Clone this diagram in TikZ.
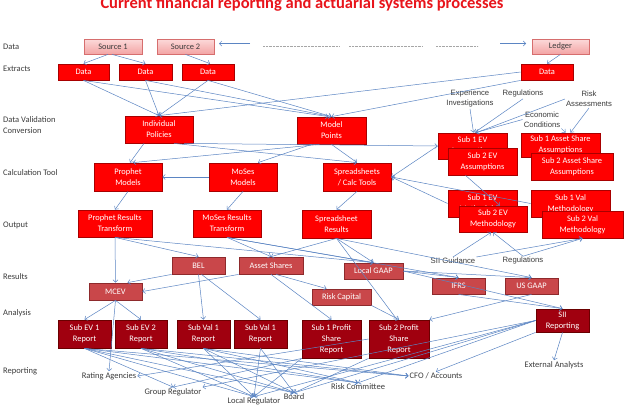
\documentclass[tikz,border=0pt]{standalone}
\usepackage{fontspec}
\setmainfont{Carlito}
\newfontfamily\arialf{Liberation Sans}
\usetikzlibrary{arrows.meta}
\pgfdeclarelayer{background}
\pgfsetlayers{background,main}
\definecolor{linec}{HTML}{5B85C3}
\definecolor{bred}{HTML}{FF0000}
\definecolor{bredb}{HTML}{A80000}
\definecolor{mred}{HTML}{C9474A}
\definecolor{mredb}{HTML}{8E2A2C}
\definecolor{dred}{HTML}{A0000F}
\definecolor{dredb}{HTML}{6A0000}
\definecolor{pinkt}{HTML}{FCDADA}
\definecolor{pinkbt}{HTML}{F3A4A4}
\definecolor{pinkb}{HTML}{D66E6E}
\definecolor{txtg}{HTML}{3C3C3C}
\definecolor{titlec}{HTML}{E8141B}
\tikzset{
  wh/.style 2 args={minimum width=#1pt, minimum height=#2pt},
  box/.style={draw, line width=0.8pt, inner sep=0pt, align=center, text=white,
              font=\fontsize{8.4}{11}\selectfont},
  brbox/.style={box, fill=bred, draw=bredb},
  mrbox/.style={box, fill=mred, draw=mredb},
  drbox/.style={box, fill=dred, draw=dredb},
  srcbox/.style={box, top color=pinkt, bottom color=pinkbt, draw=pinkb, text=txtg},
  lbl/.style={anchor=west, inner sep=0pt, text=txtg, align=left, font=\fontsize{8.5}{11}\selectfont},
  albl/.style={text=txtg, align=center, inner sep=1pt, font=\arialf\fontsize{7.7}{10}\selectfont},
  clbl/.style={text=txtg, inner sep=1pt, font=\fontsize{8.5}{9}\selectfont},
  arr/.style={draw=linec, line width=0.5pt, -{Straight Barb[length=2.5pt,width=5pt]}},
  dotl/.style={draw=gray!70, line width=0.4pt, densely dotted},
}
\begin{document}
\begin{tikzpicture}[x=1pt,y=-1pt]
\fill[white] (0,0) rectangle (627,405);
\useasboundingbox (0,0) rectangle (627,405);

% title
\node[anchor=base, text=titlec, inner sep=0pt, font=\bfseries\fontsize{16.5}{18}\selectfont] (title) at (302,8) {Current financial reporting and actuarial systems processes};

% row labels
\node[lbl] (lData) at (3,47) {Data};
\node[lbl] (lExt) at (3,69) {Extracts};
\node[lbl] (lDV) at (3,125.5) {Data Validation\\Conversion};
\node[lbl] (lCalc) at (3,173) {Calculation Tool};
\node[lbl] (lOut) at (3,225) {Output};
\node[lbl] (lRes) at (3,277) {Results};
\node[lbl] (lAna) at (3,313) {Analysis};
\node[lbl] (lRep) at (3,371) {Reporting};

% data sources
\node[srcbox, wh={58}{15}] (src1) at (113,46.5) {Source 1};
\node[srcbox, wh={57}{15}] (src2) at (185.5,46.5) {Source 2};
\node[srcbox, wh={57}{15}] (ledger) at (560.5,46.5) {Ledger};

% extracts
\node[brbox, wh={51}{16}] (data1) at (83.5,72) {Data};
\node[brbox, wh={53}{16}] (data2) at (145.5,72) {Data};
\node[brbox, wh={52}{16}] (data3) at (208,72) {Data};
\node[brbox, wh={52}{16}] (data4) at (547,72) {Data};

% validation
\node[brbox, wh={68}{27}] (ip) at (159,129.5) {Individual\\Policies};
\node[brbox, wh={69}{27}] (mp) at (331.5,130.5) {Model\\Points};

% calc
\node[brbox, wh={68}{28}] (pm) at (128,177) {Prophet\\Models};
\node[brbox, wh={68}{28}] (mm) at (243,177) {MoSes\\Models};
\node[brbox, wh={68}{28}] (sc) at (357,177) {Spreadsheets\\/ Calc Tools};

% output
\node[brbox, wh={74}{27}] (prt) at (115,223.5) {Prophet Results\\Transform};
\node[brbox, wh={68}{27}] (mrt) at (227,223.5) {MoSes Results\\Transform};
\node[brbox, wh={69}{28}] (ssr) at (336.5,224) {Spreadsheet\\Results};

% right group
\node[brbox, wh={69}{26}] (s1ev) at (472.5,146) {Sub 1 EV\\Assumptions};
\node[brbox, wh={69}{27}] (s2eva) at (482.5,161.5) {Sub 2 EV\\Assumptions};
\node[brbox, wh={79}{24}] (s1asa) at (560.5,145) {Sub 1 Asset Share\\Assumptions};
\node[brbox, wh={82}{27}] (s2asa) at (572,166.5) {Sub 2 Asset Share\\Assumptions};
\node[brbox, wh={69}{27}] (s1evm) at (482.5,203.5) {Sub 1 EV\\Methodology};
\node[brbox, wh={68}{26}] (s2evm) at (493,219) {Sub 2 EV\\Methodology};
\node[brbox, wh={79}{27}] (s1vm) at (570.5,203.5) {Sub 1 Val\\Methodology};
\node[brbox, wh={81}{27}] (s2vm) at (582.5,224.5) {Sub 2 Val\\Methodology};

% influence labels
\node[albl] (expinv) at (470,99) {Experience\\Investigations};
\node[albl] (reg1) at (523,94) {Regulations};
\node[albl] (econ) at (542,119.5) {Economic\\Conditions};
\node[albl] (risk) at (589,99) {Risk\\Assessments};
\node[albl] (siig) at (453,261) {SII Guidance};
\node[albl] (reg2) at (523,261) {Regulations};

% results
\node[mrbox, wh={53}{17}] (bel) at (198.5,265.5) {BEL};
\node[mrbox, wh={64}{17}] (as) at (271,265.5) {Asset Shares};
\node[mrbox, wh={53}{17}] (mcev) at (115.5,291.5) {MCEV};
\node[mrbox, wh={59}{16}] (lg) at (373.5,271) {Local GAAP};
\node[mrbox, wh={59}{16}] (rc) at (341.5,297) {Risk Capital};
\node[mrbox, wh={53}{16}] (ifrs) at (458.5,286) {IFRS};
\node[mrbox, wh={53}{16}] (usg) at (531.5,286) {US GAAP};

% analysis
\node[drbox, wh={53}{28}] (sev1) at (84.5,334) {Sub EV 1\\Report};
\node[drbox, wh={52}{28}] (sev2) at (141,334) {Sub EV 2\\Report};
\node[drbox, wh={53}{28}] (sval1) at (203.5,334) {Sub Val 1\\Report};
\node[drbox, wh={53}{28}] (sval2) at (260.5,334) {Sub Val 1\\Report};
\node[drbox, wh={59}{38}] (s1ps) at (331.5,339) {Sub 1 Profit\\Share\\Report};
\node[drbox, wh={60}{38}] (s2ps) at (399,339) {Sub 2 Profit\\Share\\Report};
\node[drbox, wh={53}{23}] (siir) at (562.5,320.5) {SII\\Reporting};

% reporting targets
\node[clbl] (ragen) at (109,376) {Rating Agencies};
\node[clbl] (grpreg) at (173,392) {Group Regulator};
\node[clbl] (locreg) at (254,401.5) {Local Regulator};
\node[clbl] (board) at (294,397) {Board};
\node[clbl] (riskc) at (358,387) {Risk Committee};
\node[clbl] (cfo) at (436,376) {CFO / Accounts};
\node[clbl] (extan) at (554,365) {External Analysts};

% top arrows and dotted lines
\coordinate (a1s) at (250,43.5);
\coordinate (a1e) at (219,43.5);
\coordinate (a2s) at (500,43.5);
\coordinate (a2e) at (526,43.5);
\draw[arr] (a1s) -- (a1e);
\draw[arr] (a2s) -- (a2e);
\coordinate (d1a) at (263,46); \coordinate (d1b) at (339,46);
\coordinate (d2a) at (349,46); \coordinate (d2b) at (423,46);
\coordinate (d3a) at (436,46); \coordinate (d3b) at (478,46);
\draw[dotl] (d1a) -- (d1b);
\draw[dotl] (d2a) -- (d2b);
\draw[dotl] (d3a) -- (d3b);

% sources -> extracts
\draw[arr] ([xshift=-5pt]src1.south) -- (data1.north);
\draw[arr] ([xshift=-1pt]src1.south) -- (data2.north);
\draw[arr] (src2.south) -- ([xshift=2pt]data3.north);
\draw[arr] (ledger.south) -- (data4.north);

% extracts -> validation
\draw[arr] (data1.south) -- (ip.north);
\draw[arr] (data1.south) -- ([xshift=-3pt]mp.north);
\draw[arr] (data2.south) -- (ip.north);
\draw[arr] (data2.south) -- (mp.north);
\draw[arr] (data3.south) -- (ip.north);
\draw[arr] (data3.south) -- (mp.north);
\draw[arr] (data4.west) -- (ip.north);
\draw[arr] (data4.south west) -- (mp.north);

% validation -> calc
\draw[arr] ([xshift=-15pt]ip.south) -- ([xshift=2pt]pm.north);
\draw[arr] ([xshift=-12pt]mp.south) -- ([xshift=5pt]pm.north);
\draw[arr] ([xshift=15pt]ip.south) -- (sc.north);
\draw[arr] (mp.south) -- (sc.north);
\draw[arr] ([xshift=-20pt]mp.south) -- ([xshift=15pt]mm.north);
\draw[arr] ([xshift=25pt]ip.south) -- (s1ev.west);
\draw[arr] (mm.west) -- (pm.east);
\begin{pgfonlayer}{background}
\draw[arr] (s1ev.west) -- (pm.east);
\draw[arr] (s1evm.west) -- (pm.east);
\draw[arr] (prt.south) -- (ifrs.north);
\end{pgfonlayer}
\draw[arr] (s1ev.west) -- (sc.east);
\draw[arr] (s1evm.west) -- (sc.east);
\draw[arr] (s1vm.west) -- (sc.east);
\draw[arr] ([xshift=-17pt]s2eva.south) -- ([xshift=7pt]s2evm.north);

% influences
\draw[arr] (expinv.south) -- ([xshift=1pt]s1ev.north);
\draw[arr] (reg1.south) -- ([xshift=2pt]s1ev.north);
\draw[arr] (econ.west) -- ([xshift=3pt]s1ev.north);
\draw[arr] (risk.west) -- ([xshift=4pt]s1ev.north);
\draw[arr] (econ.south east) -- ([xshift=5pt]s1asa.north);
\draw[arr] (risk.south) -- ([xshift=10pt]s1asa.north);
\draw[arr] (siig.north) -- ([xshift=-2pt]s2evm.south);
\draw[arr] (reg2.north) -- (s2evm.south);
\draw[arr] (siig.north east) -- (s2vm.south);
\draw[arr] (reg2.north) -- (s2vm.south);

% calc -> output
\draw[arr] (pm.south) -- (prt.north);
\draw[arr] (mm.south) -- (mrt.north);
\draw[arr] (sc.south) -- (ssr.north);

% output -> results
\draw[arr] (prt.south) -- (mcev.north);
\draw[arr] (prt.south) -- (bel.north);
\draw[arr] (prt.south) -- (lg.north);
\draw[arr] (mrt.south) -- (as.north);
\draw[arr] (mrt.south) -- (lg.north);
\draw[arr] (mrt.south) -- (ifrs.north);
\draw[arr] (ssr.south) -- (as.north);
\draw[arr] (ssr.south) -- (lg.north);
\draw[arr] (ssr.south) -- (usg.north);
\draw[arr] (ssr.south) -- ([xshift=-2pt]s2ps.north);

% results -> analysis
\draw[arr] (bel.south west) -- ([xshift=12pt]mcev.north);
\draw[arr] (as.south west) -- (mcev.east);
\draw[arr] (bel.south) -- (sval1.north);
\draw[arr] ([xshift=3pt]bel.south) -- (sval2.north);
\draw[arr] ([xshift=5pt]as.south) -- ([xshift=-15pt]rc.north);
\draw[arr] (as.south) -- (s1ps.north);
\draw[arr] (lg.east) -- (ifrs.north);
\draw[arr] (lg.east) -- (usg.north);
\draw[arr] (lg.east) -- (siir.north);
\draw[arr] (rc.south east) -- (s2ps.north);
\draw[arr] (ifrs.south) -- (siir.north);
\draw[arr] (usg.south) -- (s2ps.north east);
\draw[arr] (mcev.south) -- (sev1.north);
\draw[arr] (mcev.south) -- (sev2.north);
\draw[arr] (mcev.south) -- (ragen.north);
\draw[arr] (siir.south) -- (extan.north);

% analysis -> reporting
\draw[arr] (sev1.south) -- (grpreg.north);
\draw[arr] (sev1.south) -- (locreg.north);
\draw[arr] (sev1.south) -- (board.north);
\draw[arr] (sev1.south) -- (riskc.north);
\draw[arr] (sev1.south) -- (cfo.west);
\draw[arr] (sev2.south) -- (locreg.north);
\draw[arr] (sev2.south) -- (board.north);
\draw[arr] (sev2.south) -- (riskc.north);
\draw[arr] (sev2.south) -- (cfo.west);
\draw[arr] (sval1.south) -- (locreg.north);
\draw[arr] (sval1.south) -- (board.north);
\draw[arr] (sval1.south) -- (riskc.north);
\draw[arr] (sval1.south) -- (cfo.west);
\draw[arr] (sval2.south) -- (locreg.north);
\draw[arr] (sval2.south) -- (board.north);
\draw[arr] (s1ps.south west) -- (grpreg.north);
\draw[arr] (s1ps.south west) -- (locreg.north);
\draw[arr] (s2ps.west) -- (ragen.east);
\draw[arr] (s2ps.south west) -- (board.north);
\draw[arr] (siir.west) -- (grpreg.north east);
\draw[arr] (siir.west) -- (locreg.north);
\draw[arr] (siir.west) -- (board.north);
\draw[arr] (siir.west) -- (riskc.north);
\draw[arr] (siir.south west) -- (cfo.north);
\end{tikzpicture}
\end{document}
